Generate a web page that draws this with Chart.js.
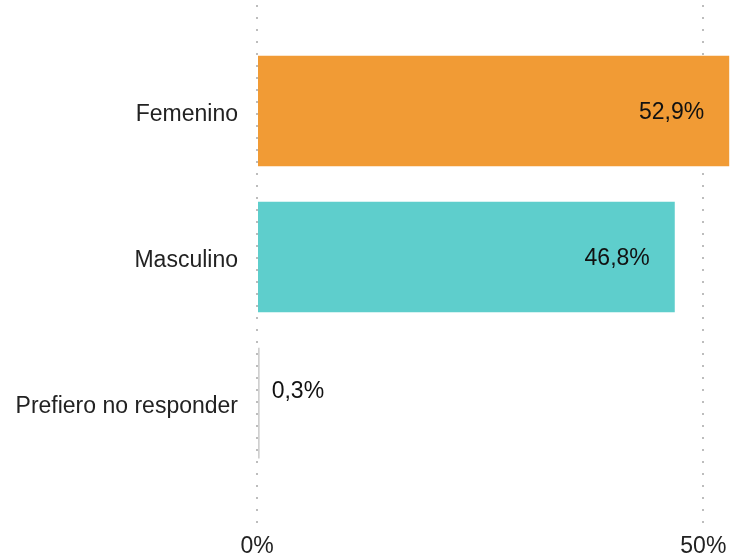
<!DOCTYPE html>
<html>
<head>
<meta charset="utf-8">
<script src="https://cdn.jsdelivr.net/npm/chart.js@4/dist/chart.umd.min.js"></script>
<style>
  body { margin: 0; background: #fff; }
  #wrap { width: 731px; height: 559px; }
</style>
</head>
<body>
<div id="wrap"><canvas id="myChart"></canvas></div>
<script>
// Categories and values (percentages).
const categories = ['Femenino', 'Masculino', 'Prefiero no responder'];
const shares = [52.9, 46.8, 0.3];
const barColors = ['#F19B35', '#5ECECC', '#CFCFCF'];
const xTicks = [0, 50];

const fontFamily = "'Liberation Sans', Arial, Helvetica, sans-serif";

// Draws the value label at the end of each bar.
const valueLabels = {
    id: 'valueLabels',
    afterDatasetsDraw(chart) {
        const ctx = chart.ctx;
        const meta = chart.getDatasetMeta(0);
        ctx.save();
        ctx.font = `23px ${fontFamily}`;
        ctx.fillStyle = '#111';
        ctx.textBaseline = 'middle';
        meta.data.forEach((bar, i) => {
            const text = shares[i].toFixed(1).replace('.', ',') + '%';
            if (shares[i] > 10) {
                ctx.textAlign = 'right';
                ctx.fillText(text, bar.x - 25, bar.y + 2);
            } else {
                ctx.textAlign = 'left';
                ctx.fillText(text, bar.x + 12, bar.y - 11);
            }
        });
        ctx.restore();
    }
};

const ctx = document.getElementById('myChart').getContext('2d');
const chart = new Chart(ctx, {
    type: 'bar',
    data: {
        datasets: [{
            data: shares.map((v, i) => ({ x: v, y: i })),
            backgroundColor: barColors,
            borderWidth: 0,
            categoryPercentage: 0.757,
            barPercentage: 1
        }]
    },
    plugins: [valueLabels],
    options: {
        indexAxis: 'y',
        responsive: true,
        maintainAspectRatio: false,
        animation: false,
        layout: { padding: { top: 5, left: 0, right: 0, bottom: 0 } },
        plugins: {
            legend: { display: false },
            tooltip: { enabled: false }
        },
        scales: {
            x: {
                type: 'linear',
                min: 0,
                max: 53.1,
                afterBuildTicks: (scale) => {
                    scale.ticks = xTicks.map(v => ({ value: v }));
                },
                afterFit: (scale) => {
                    scale.height = 34;
                    scale.paddingLeft = 0;
                    scale.paddingRight = 0;
                },
                grid: {
                    color: '#BDBDBD',
                    lineWidth: 2,
                    drawTicks: false,
                    tickLength: 0
                },
                border: { display: false, dash: [2, 10] },
                ticks: {
                    padding: 8,
                    color: '#222',
                    font: { family: fontFamily, size: 23 },
                    callback: (v) => v + '%'
                }
            },
            y: {
                type: 'linear',
                reverse: true,
                offset: false,
                min: -0.725,
                max: 2.834,
                afterBuildTicks: (scale) => {
                    scale.ticks = categories.map((c, i) => ({ value: i }));
                },
                afterFit: (scale) => {
                    scale.width = 257;
                    scale.paddingTop = 0;
                    scale.paddingBottom = 0;
                },
                border: { display: false },
                grid: { display: false, drawTicks: false, offset: false },
                ticks: {
                    padding: 19,
                    labelOffset: 4,
                    color: '#222',
                    font: { family: fontFamily, size: 23 },
                    callback: (v) => categories[v]
                }
            }
        }
    }
});
</script>
</body>
</html>
